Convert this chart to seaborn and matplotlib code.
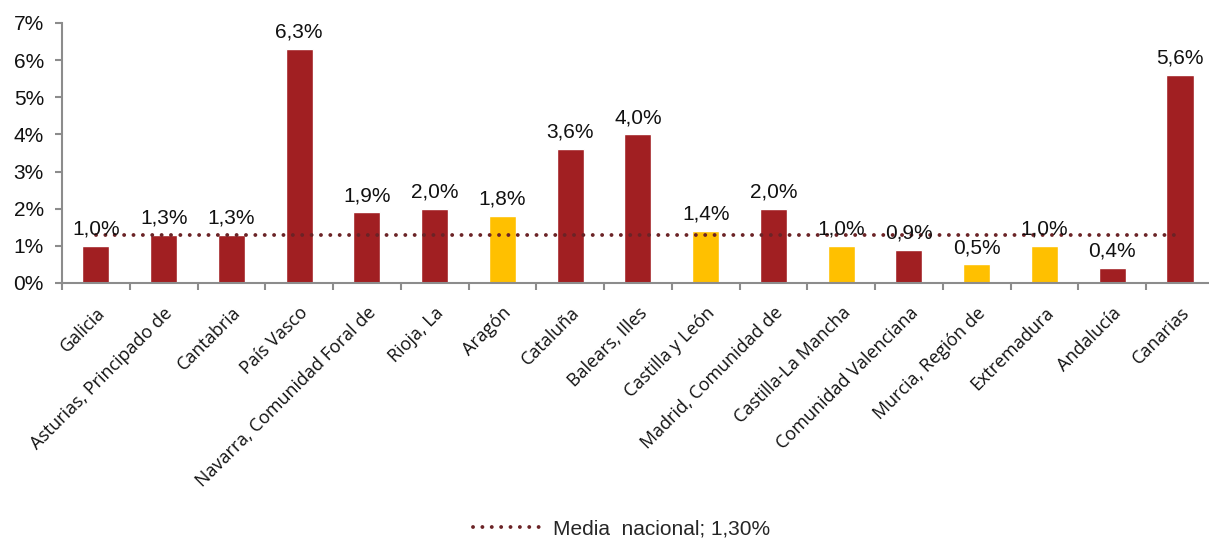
import matplotlib
matplotlib.use("Agg")
import matplotlib.pyplot as plt
from matplotlib.lines import Line2D
from matplotlib.ticker import FuncFormatter
import seaborn as sns
import pandas as pd

regions = [
    "Galicia", "Asturias, Principado de", "Cantabria", "País Vasco",
    "Navarra, Comunidad Foral de", "Rioja, La", "Aragón", "Cataluña",
    "Balears, Illes", "Castilla y León", "Madrid, Comunidad de",
    "Castilla-La Mancha", "Comunidad Valenciana", "Murcia, Región de",
    "Extremadura", "Andalucía", "Canarias",
]
values = [1.0, 1.3, 1.3, 6.3, 1.9, 2.0, 1.8, 3.6, 4.0, 1.4, 2.0, 1.0, 0.9, 0.5, 1.0, 0.4, 5.6]
group = ["a", "a", "a", "a", "a", "a", "b", "a", "a", "b", "a", "b", "a", "b", "b", "a", "a"]
national_mean = 1.30
mean_label = "Media  nacional; 1,30%"

palette = {"a": "#A11F22", "b": "#FFC000"}
line_color = "#6B2326"

df = pd.DataFrame({"region": regions, "value": values, "group": group})

sns.set_theme(style="white")
fig = plt.figure(figsize=(12.09, 5.41), dpi=100)
ax = fig.add_axes([62 / 1209, 1 - 283 / 541, (1209 - 62) / 1209 + 0.004, (283 - 23) / 541])

sns.barplot(data=df, x="region", y="value", hue="group", palette=palette,
            dodge=False, width=0.4, legend=False, ax=ax, saturation=1)

# round dots: near-zero dash with round caps
dots = (0, (0.01, 2.4))
ax.plot([0, len(regions) - 1], [national_mean, national_mean], linestyle=dots,
        color=line_color, linewidth=2.8, dash_capstyle="round", zorder=3)

for i, v in enumerate(values):
    ax.text(i, v + 0.2, f"{v:.1f}%".replace(".", ","), ha="center", va="bottom",
            fontsize=15, family="Liberation Sans", color="#111111")

ax.set_ylim(0, 7)
ax.set_xlim(-0.5, len(regions) - 0.5)
ax.yaxis.set_major_formatter(FuncFormatter(lambda y, _: f"{y:.0f}%"))
ax.set_yticks(range(0, 8))
ax.set_xlabel("")
ax.set_ylabel("")

for s in ["top", "right"]:
    ax.spines[s].set_visible(False)
for s in ["left", "bottom"]:
    ax.spines[s].set_color("#8C8C8C")
    ax.spines[s].set_linewidth(1.5)

ax.tick_params(axis="y", which="major", length=5, width=1.5, color="#8C8C8C",
               left=True, labelsize=15, pad=8)
for lbl in ax.get_yticklabels():
    lbl.set_family("Liberation Sans")
    lbl.set_color("#111111")

ax.set_xticks([i - 0.5 for i in range(len(regions) + 1)], minor=True)
ax.tick_params(axis="x", which="minor", length=5, width=1.5, color="#8C8C8C", bottom=True)
ax.tick_params(axis="x", which="major", length=0, labelsize=13, pad=15)
ax.set_xticks(range(len(regions)))
ax.set_xticklabels(regions, rotation=45, ha="right", rotation_mode="anchor",
                   family="Open Sans", color="#111111")

handle = Line2D([], [], linestyle=dots, color=line_color, linewidth=2.8,
                dash_capstyle="round")
fig.legend(handles=[handle], labels=[mean_label], loc="center",
           bbox_to_anchor=(0.5 + 17 / 1209, 1 - 529 / 541), frameon=False,
           prop={"family": "Liberation Sans", "size": 15}, handlelength=3.3,
           handletextpad=0.5)

fig.savefig("out.png", dpi=100)
